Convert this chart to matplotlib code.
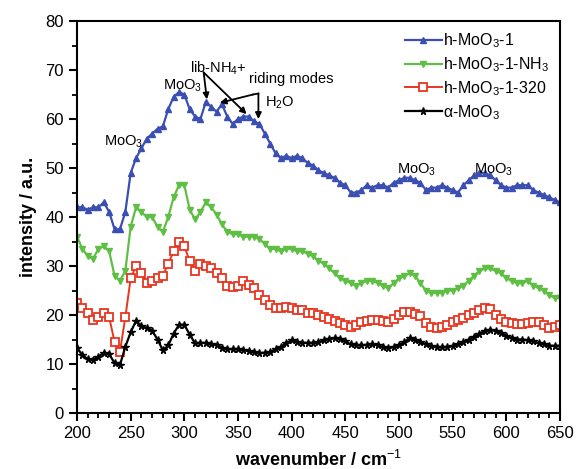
import matplotlib
matplotlib.use("Agg")
import matplotlib.pyplot as plt
from matplotlib.ticker import MultipleLocator

plt.rcParams['font.family'] = ['Liberation Sans', 'DejaVu Sans']
plt.rcParams['mathtext.fontset'] = 'custom'
plt.rcParams['mathtext.rm'] = 'Liberation Sans'
plt.rcParams['mathtext.it'] = 'Liberation Sans'

wavenumber = list(range(200, 651, 5))

h_moo3_1 = [42, 42, 41.5, 42, 42, 43, 41, 37.5, 37.5, 41, 49, 52, 54, 56, 57, 58, 58.5, 62, 64.5, 65.5,
            65, 62, 60.5, 60, 63.5, 62.5, 61.5, 63, 60.5, 59, 60, 60.5, 60.5, 59.5, 59, 57, 55, 53, 52, 52.5,
            52, 52.5, 52, 51, 50.5, 49.5, 49, 48.5, 48, 47, 46.5, 45, 45, 45.5, 46.5, 46, 46.5, 46.5, 46, 47,
            47.5, 48, 48, 47.5, 47, 45.5, 46, 46, 46.5, 46, 45.5, 45, 46.5, 47.5, 48.5, 49, 49, 48.5, 47.5, 46.5,
            46, 46, 46.5, 46.5, 46.5, 45.5, 45, 44.5, 44, 43.5, 43]

h_moo3_1_nh3 = [36, 33.5, 32, 31.5, 33.5, 34, 33, 28, 27, 29, 38, 42, 41, 40, 40, 38, 37, 40, 44, 46.5,
                46.5, 41.5, 39.5, 41, 43, 42, 40.5, 38.5, 37, 36.5, 36.5, 36, 36, 36, 35.5, 34.5, 33.5, 33.5, 33, 33.5,
                33.5, 33, 33, 32.5, 32, 31, 30.5, 29.5, 28.5, 27.5, 27, 26.5, 26, 26.5, 27, 27, 26.5, 26, 25.5, 26.5,
                27.5, 28, 28.5, 28, 26.5, 25, 24.5, 24.5, 24.5, 25, 25, 25.5, 26, 27, 28, 29, 29.5, 29.5, 29, 28.5,
                27.5, 27, 26.5, 26.5, 27, 26, 25.5, 25, 24, 23.5, 23.5]

h_moo3_1_320 = [22.5, 21.5, 20.5, 19, 19.5, 20.5, 19.5, 14.5, 12.5, 19.5, 27.5, 30, 28.5, 26.5, 27, 27.5, 28, 30.5, 33, 35,
                34, 31, 29, 30.5, 30, 29.5, 28.5, 27.5, 26, 25.8, 26, 27, 26.2, 25.5, 24, 23, 22, 21.5, 21.5, 21.7,
                21.5, 21, 21, 20.5, 20.4, 20, 19.5, 19.2, 18.8, 18.4, 18, 17.6, 18, 18.6, 18.8, 19, 19, 18.8, 18.6, 19.2,
                20, 20.7, 20.7, 20.3, 19.7, 18.3, 17.6, 17.4, 17.6, 18, 18.5, 19, 19.4, 20, 20.5, 21, 21.4, 21.2, 20, 19.2,
                18.5, 18.3, 18.2, 18.2, 18.3, 18.5, 18.6, 18, 17.4, 17.6, 18]

alpha_moo3 = [13.3, 11.8, 11, 10.8, 11.5, 12.3, 12, 10.2, 9.8, 13.5, 16.5, 18.8, 17.8, 17.3, 16.8, 15, 12.8, 13.8, 16.2, 18,
              18, 16, 14.2, 14.3, 14.3, 14, 13.8, 13.3, 13, 13, 13, 12.9, 12.6, 12.4, 12.2, 12.3, 12.5, 13, 13.5, 14.3,
              14.8, 14.5, 14.3, 14.3, 14.3, 14.5, 14.8, 15.2, 15.3, 15.2, 14.6, 14, 13.8, 13.8, 13.9, 14, 13.8, 13.4, 13.3, 13.5,
              13.8, 14.5, 15.3, 15, 14.5, 14, 13.6, 13.4, 13.4, 13.5, 13.7, 14, 14.5, 15, 15.6, 16.2, 16.8, 17, 16.8, 16.4,
              15.8, 15.3, 15, 15, 14.8, 14.6, 14.3, 14, 13.7, 13.7, 13.7]

labels = ["h-MoO$_3$-1", "h-MoO$_3$-1-NH$_3$", "h-MoO$_3$-1-320", "α-MoO$_3$"]

fig = plt.figure(figsize=(5.76, 4.69), dpi=100)
ax = fig.add_axes([0.1337, 0.1194, 0.8385, 0.8358])

ax.plot(wavenumber, h_moo3_1, color='#3b4fb3', lw=1.6, marker='^', ms=4.5, label=labels[0])
ax.plot(wavenumber, h_moo3_1_nh3, color='#5fbf45', lw=1.6, marker='v', ms=4.5, label=labels[1])
ax.plot(wavenumber, h_moo3_1_320, color='#e8351f', lw=1.4, marker='s', ms=5.5, mfc='white', mew=1.3, label=labels[2])
ax.plot(wavenumber, alpha_moo3, color='black', lw=1.6, marker='*', ms=5.5, label=labels[3])

ax.set_xlim(200, 650)
ax.set_ylim(0, 80)
ax.xaxis.set_major_locator(MultipleLocator(50))
ax.xaxis.set_minor_locator(MultipleLocator(10))
ax.yaxis.set_major_locator(MultipleLocator(10))
ax.yaxis.set_minor_locator(MultipleLocator(5))
ax.tick_params(which='major', direction='out', length=6, width=1.5, labelsize=12, top=False, right=False)
ax.tick_params(which='minor', direction='out', length=3.5, width=1.3, top=False, right=False)
for s in ax.spines.values():
    s.set_linewidth(1.5)

ax.set_xlabel("wavenumber / cm$^{-1}$", fontsize=13, fontweight='bold', labelpad=6)
ax.set_ylabel("intensity / a.u.", fontsize=13, fontweight='bold', labelpad=6)

leg = ax.legend(loc='upper right', frameon=False, fontsize=11.5, handlelength=2.3, handletextpad=0.1,
                labelspacing=0.32, borderaxespad=0.25, bbox_to_anchor=(1.0, 1.0))

fs = 10.5
ax.text(225, 54.5, "MoO$_3$", fontsize=fs)
ax.text(280, 66, "MoO$_3$", fontsize=fs)
ax.text(305, 69.5, "lib-NH$_4$+", fontsize=fs)
ax.text(360, 67.3, "riding modes", fontsize=fs)
ax.text(375, 62.5, "H$_2$O", fontsize=fs)
ax.text(498, 48.8, "MoO$_3$", fontsize=fs)
ax.text(570, 48.8, "MoO$_3$", fontsize=fs)

ap = dict(arrowstyle='-|>', color='black', lw=1.3, mutation_scale=9, shrinkA=0, shrinkB=0)
ax.annotate("", xy=(321, 64), xytext=(318, 69.5), arrowprops=ap)
ax.annotate("", xy=(358, 61), xytext=(318, 69.5), arrowprops=ap)
ax.annotate("", xy=(333, 63.3), xytext=(364, 65), arrowprops=ap)
ax.plot([364, 369], [65, 65.2], color='black', lw=1.3)
ax.annotate("", xy=(369, 60), xytext=(369, 65.2), arrowprops=ap)

fig.savefig("out.png", dpi=100)
